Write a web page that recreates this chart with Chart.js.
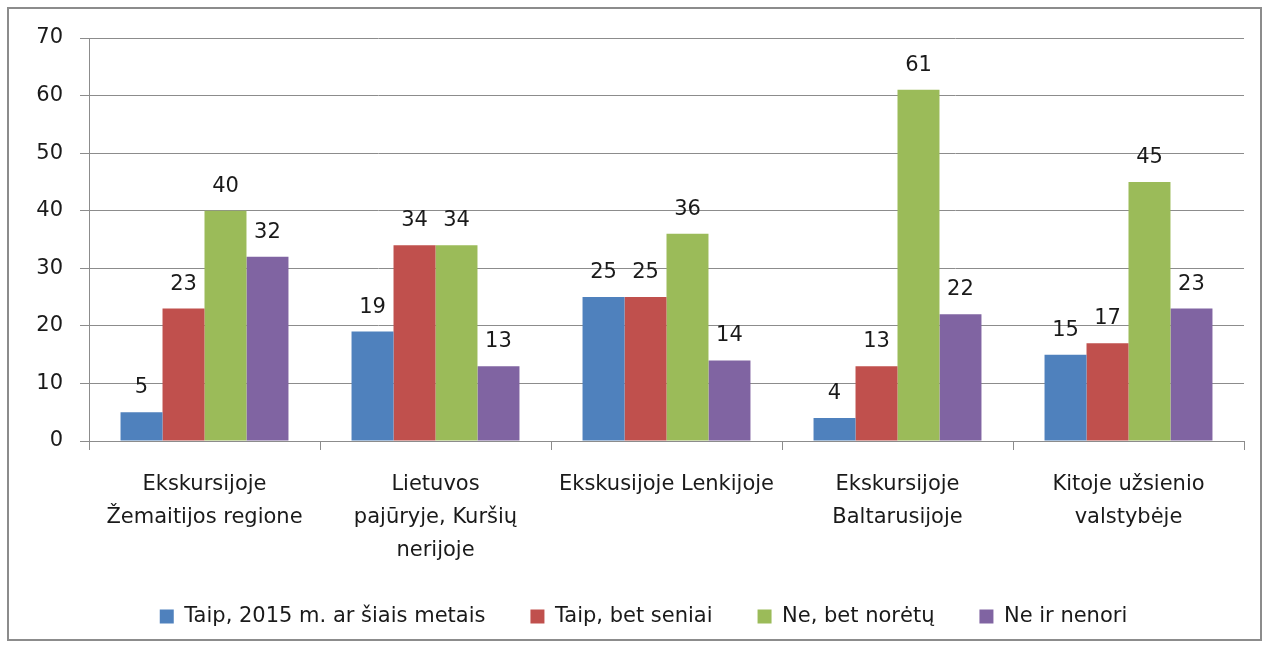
<!DOCTYPE html>
<html>
<head>
<meta charset="utf-8">
<script src="https://cdn.jsdelivr.net/npm/chart.js@4.4.0/dist/chart.umd.min.js"></script>
<style>
  html, body { margin: 0; padding: 0; background: #ffffff; }
  #wrap { position: relative; width: 1272px; height: 649px; overflow: hidden; }
  #frame { position: absolute; left: 7px; top: 7px; width: 1255px; height: 634px; border: 2px solid #8c8c8c; box-sizing: border-box; }
  canvas { position: absolute; left: 0; top: 0; }
</style>
</head>
<body>
<div id="wrap">
  <div id="frame"></div>
  <canvas id="c" width="1272" height="649"></canvas>
</div>
<script>
const categories = [
  ["Ekskursijoje", "Žemaitijos regione"],
  ["Lietuvos", "pajūryje, Kuršių", "nerijoje"],
  "Ekskusijoje Lenkijoje",
  ["Ekskursijoje", "Baltarusijoje"],
  ["Kitoje užsienio", "valstybėje"]
];
const seriesNames = ["Taip, 2015 m. ar šiais metais", "Taip, bet seniai", "Ne, bet norėtų", "Ne ir nenori"];
const taip2015 = [5, 19, 25, 4, 15];
const taipSeniai = [23, 34, 25, 13, 17];
const neNoretu = [40, 34, 36, 61, 45];
const neNenori = [32, 13, 14, 22, 23];
const yTicks = [0, 10, 20, 30, 40, 50, 60, 70];

const colors = ["#4F81BD", "#C0504D", "#9BBB59", "#8064A2"];
const FONT = '"DejaVu Sans", sans-serif';
const TEXT = '#1a1a1a';
const GRID = '#8c8c8c';

const valueLabels = {
  id: 'valueLabels',
  afterDatasetsDraw(chart) {
    const ctx = chart.ctx;
    ctx.save();
    ctx.font = '21px ' + FONT;
    ctx.fillStyle = TEXT;
    ctx.textAlign = 'center';
    ctx.textBaseline = 'alphabetic';
    chart.data.datasets.forEach((ds, i) => {
      chart.getDatasetMeta(i).data.forEach((bar, j) => {
        ctx.fillText(String(ds.data[j]), bar.x, bar.y - 19);
      });
    });
    ctx.restore();
  }
};

// shift the legend box so its row is centred like the reference
const legendShift = {
  id: 'legendShift',
  afterLayout(chart) {
    if (chart.legend) { chart.legend.left = 43; }
  }
};

const seriesData = [taip2015, taipSeniai, neNoretu, neNenori];

new Chart(document.getElementById('c'), {
  type: 'bar',
  data: {
    labels: categories,
    datasets: seriesData.map((d, i) => ({
      label: seriesNames[i],
      data: d,
      backgroundColor: colors[i],
      borderWidth: 0,
      categoryPercentage: 0.727,
      barPercentage: 1.0
    }))
  },
  options: {
    responsive: false,
    animation: false,
    devicePixelRatio: 1,
    layout: { padding: { left: 20, right: 28, top: 38, bottom: 12 } },
    plugins: {
      tooltip: { enabled: false },
      legend: {
        position: 'bottom',
        labels: {
          boxWidth: 14,
          boxHeight: 14,
          padding: 45,
          color: TEXT,
          font: { family: FONT, size: 21 }
        }
      }
    },
    scales: {
      x: {
        afterFit(scale) { scale.height = 120; },
        grid: { display: true, drawOnChartArea: false, drawTicks: true, tickLength: 9, color: GRID, offset: true },
        border: { display: true, color: GRID, width: 1 },
        ticks: {
          autoSkip: false, maxRotation: 0, minRotation: 0,
          padding: 18,
          color: TEXT,
          font: { family: FONT, size: 21, lineHeight: 1.58 }
        }
      },
      y: {
        min: 0, max: 70,
        afterFit(scale) { scale.width = 69; },
        afterBuildTicks(scale) { scale.ticks = yTicks.map(v => ({ value: v })); },
        grid: { color: GRID, tickLength: 9, drawTicks: true },
        border: { display: true, color: GRID, width: 1 },
        ticks: {
          stepSize: 10,
          padding: 17,
          color: TEXT,
          font: { family: FONT, size: 21 }
        }
      }
    }
  },
  plugins: [valueLabels, legendShift]
});
</script>
</body>
</html>
